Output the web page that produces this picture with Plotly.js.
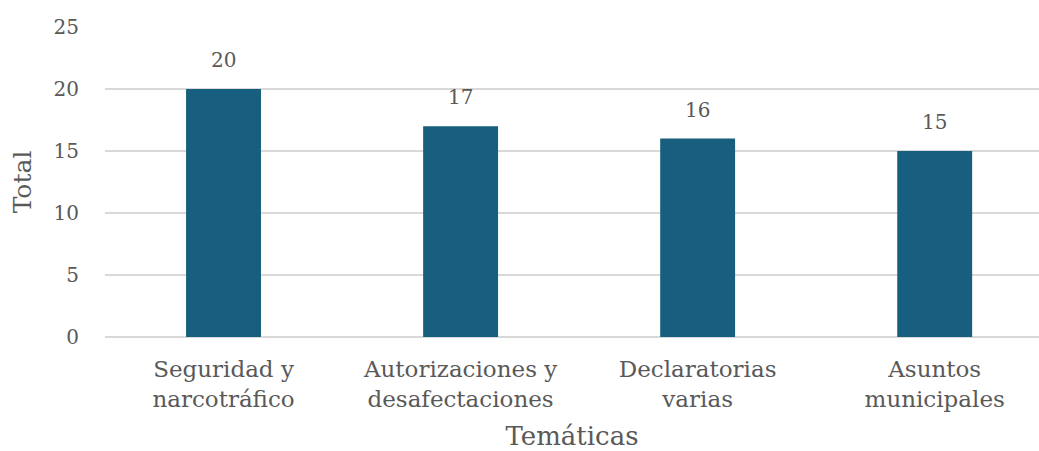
<!DOCTYPE html>
<html>
<head>
<meta charset="utf-8">
<script src="https://cdn.plot.ly/plotly-3.0.1.min.js"></script>
<style>html,body{margin:0;padding:0;background:#fff;}#chart{width:1039px;height:451px;}</style>
</head>
<body>
<div id="chart"></div>
<script>
var categories = ["Seguridad y<br>narcotráfico", "Autorizaciones y<br>desafectaciones", "Declaratorias<br>varias", "Asuntos<br>municipales"];
var totals = [20, 17, 16, 15];
var yTicks = [0, 5, 10, 15, 20, 25];

var FONT = "DejaVu Serif, Liberation Serif, serif";
var TXT = "#595959";

var annotations = categories.map(function (c, i) {
  return {
    x: c, y: totals[i], xref: "x", yref: "y",
    text: String(totals[i]), showarrow: false,
    yanchor: "bottom", yshift: 15,
    font: {family: FONT, size: 20, color: TXT}
  };
});

var data = [{
  type: "bar",
  x: categories,
  y: totals,
  marker: {color: "#175E7F", line: {width: 0}},
  hoverinfo: "none"
}];

var layout = {
  width: 1039, height: 451,
  margin: {l: 105, r: 0, t: 27, b: 114},
  paper_bgcolor: "#ffffff", plot_bgcolor: "#ffffff",
  bargap: 0.684,
  showlegend: false,
  font: {family: FONT, color: TXT, size: 20},
  xaxis: {
    type: "category",
    range: [-0.5, 3.44],
    showgrid: false, zeroline: false, showline: false,
    ticks: "outside", ticklen: 11, tickcolor: "rgba(0,0,0,0)",
    tickfont: {family: FONT, size: 23, color: TXT},
    title: {text: "Temáticas", font: {family: FONT, size: 26, color: TXT}, standoff: 17}
  },
  yaxis: {
    range: [0, 25],
    tickvals: yTicks,
    ticktext: yTicks.map(String),
    showgrid: true, gridcolor: "#d9d9d9", gridwidth: 1.5,
    zeroline: true, zerolinecolor: "#d9d9d9", zerolinewidth: 1.5,
    showline: false,
    ticks: "outside", ticklen: 21, tickcolor: "rgba(0,0,0,0)",
    tickfont: {family: FONT, size: 20, color: TXT},
    title: {text: "Total", font: {family: FONT, size: 25, color: TXT}, standoff: 14}
  },
  annotations: annotations
};

Plotly.newPlot("chart", data, layout, {displayModeBar: false, staticPlot: true});
</script>
</body>
</html>
